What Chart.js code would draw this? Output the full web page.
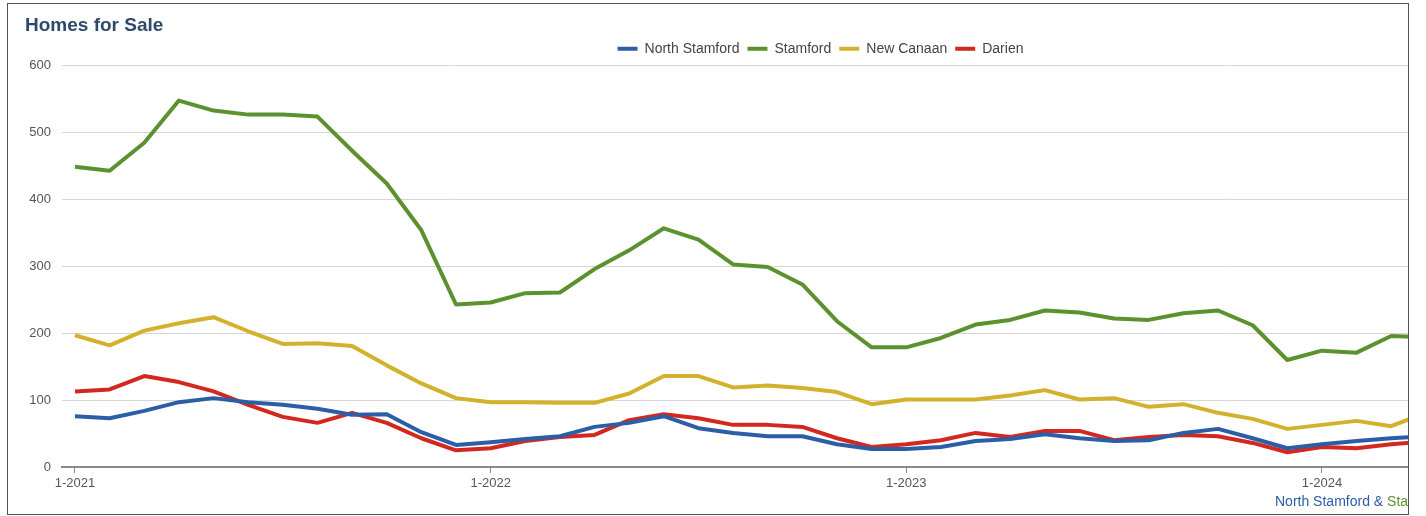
<!DOCTYPE html>
<html>
<head>
<meta charset="utf-8">
<title>Homes for Sale</title>
<script src="https://cdn.jsdelivr.net/npm/chart.js@4.4.0/dist/chart.umd.min.js"></script>
<style>
  body { margin: 0; background: #fff; }
  #frame { position: absolute; left: 7px; top: 3px; width: 1400px; height: 510px; border: 1px solid #555; overflow: hidden; background: #fff; }
  #wrap { position: absolute; left: 0; top: 0; width: 1608px; height: 510px; }
  #source { position: absolute; left: 1267px; top: 489px; font: 14px "Liberation Sans", Arial, sans-serif; white-space: nowrap; }
</style>
</head>
<body>
<div id="frame">
  <div id="wrap"><canvas id="homesChart"></canvas></div>
  <div id="source"><span style="color:#2b5ea7">North Stamford &amp; </span><span style="color:#5b922f">Stamford &amp; </span><span style="color:#d2b22c">New Canaan &amp; </span><span style="color:#d3281f">Darien</span></div>
</div>
<script>
// monthly labels, Jan 2021 .. Apr 2024
const months = [
  '1-2021', '2-2021', '3-2021', '4-2021', '5-2021', '6-2021', '7-2021', '8-2021', '9-2021', '10-2021', '11-2021', '12-2021',
  '1-2022', '2-2022', '3-2022', '4-2022', '5-2022', '6-2022', '7-2022', '8-2022', '9-2022', '10-2022', '11-2022', '12-2022',
  '1-2023', '2-2023', '3-2023', '4-2023', '5-2023', '6-2023', '7-2023', '8-2023', '9-2023', '10-2023', '11-2023', '12-2023',
  '1-2024', '2-2024', '3-2024', '4-2024'
];

const northStamford = [76, 73, 84, 97, 103, 97, 93, 87, 78, 79, 52, 33,
  37, 42, 46, 60, 66, 76, 58, 51, 46, 46, 34, 27,
  27, 30, 39, 42, 49, 43, 39, 40, 51, 57, 43, 28,
  34, 39, 43, 46];
const stamford = [449, 443, 485, 548, 533, 527, 527, 524, 473, 424, 354, 243,
  246, 260, 261, 296, 324, 357, 340, 303, 299, 273, 218, 179,
  179, 193, 213, 220, 234, 231, 222, 220, 230, 234, 212, 160,
  174, 171, 196, 194];
const newCanaan = [197, 182, 204, 215, 224, 203, 184, 185, 181, 152, 125, 103,
  97, 97, 96, 96, 110, 136, 136, 119, 122, 118, 112, 94,
  101, 101, 101, 107, 115, 101, 103, 90, 94, 81, 72, 57,
  63, 69, 61, 81];
const darien = [113, 116, 136, 127, 113, 93, 75, 66, 81, 66, 43, 25,
  28, 39, 45, 48, 70, 79, 73, 63, 63, 60, 43, 30,
  34, 40, 51, 45, 54, 54, 40, 45, 48, 46, 36, 22,
  30, 28, 34, 38];

const seriesNames = ['North Stamford', 'Stamford', 'New Canaan', 'Darien'];
const seriesColors = ['#2b5ea7', '#5b922f', '#d2b22c', '#d3281f'];
const yTicks = [0, 100, 200, 300, 400, 500, 600];

const allSeries = [northStamford, stamford, newCanaan, darien];
const datasets = allSeries.map((values, k) => ({
  label: seriesNames[k],
  data: values.map((v, i) => ({ x: i, y: v })),
  borderColor: seriesColors[k],
  backgroundColor: seriesColors[k],
  borderWidth: 4,
  pointRadius: 0,
  tension: 0,
  borderJoinStyle: 'round'
}));

// month width in px is fixed by the reference, x range starts a bit before 1-2021
const xMin = -0.375;
const xMax = 44.49;

Chart.defaults.font.family = '"Liberation Sans", Arial, sans-serif';

new Chart(document.getElementById('homesChart'), {
  type: 'line',
  data: { datasets: datasets },
  options: {
    responsive: true,
    maintainAspectRatio: false,
    animation: false,
    layout: { padding: { left: 17, right: 0, top: 0, bottom: 0 } },
    plugins: {
      title: {
        display: true,
        text: 'Homes for Sale',
        align: 'start',
        color: '#2e4a6b',
        font: { size: 19, weight: 'bold' },
        padding: { top: 10, bottom: -3 }
      },
      legend: {
        display: true,
        labels: {
          boxWidth: 20,
          boxHeight: 4,
          padding: 8,
          color: '#444',
          font: { size: 14 },
          generateLabels: chart => Chart.defaults.plugins.legend.labels.generateLabels(chart)
            .map(l => Object.assign(l, { lineWidth: 0, fillStyle: l.strokeStyle }))
        }
      },
      tooltip: { enabled: false }
    },
    scales: {
      x: {
        type: 'linear',
        min: xMin,
        max: xMax,
        afterFit: s => { s.height = 47; },
        afterBuildTicks: s => {
          s.ticks = months.map((m, i) => i).filter(i => months[i].startsWith('1-')).map(i => ({ value: i }));
        },
        ticks: {
          color: '#555',
          font: { size: 13 },
          padding: 3,
          maxRotation: 0,
          autoSkip: false,
          callback: v => months[v]
        },
        grid: { drawOnChartArea: false, drawTicks: true, tickLength: 6, color: '#888' },
        border: { display: true, color: '#8a8a8a', width: 2 }
      },
      y: {
        min: 0,
        max: 600,
        afterFit: s => { s.width = 37; },
        afterBuildTicks: s => { s.ticks = yTicks.map(v => ({ value: v })); },
        ticks: { color: '#555', font: { size: 13 }, padding: 11 },
        grid: { color: '#d6d6d6', lineWidth: 1, drawTicks: false },
        border: { display: false }
      }
    }
  }
});
</script>
</body>
</html>
